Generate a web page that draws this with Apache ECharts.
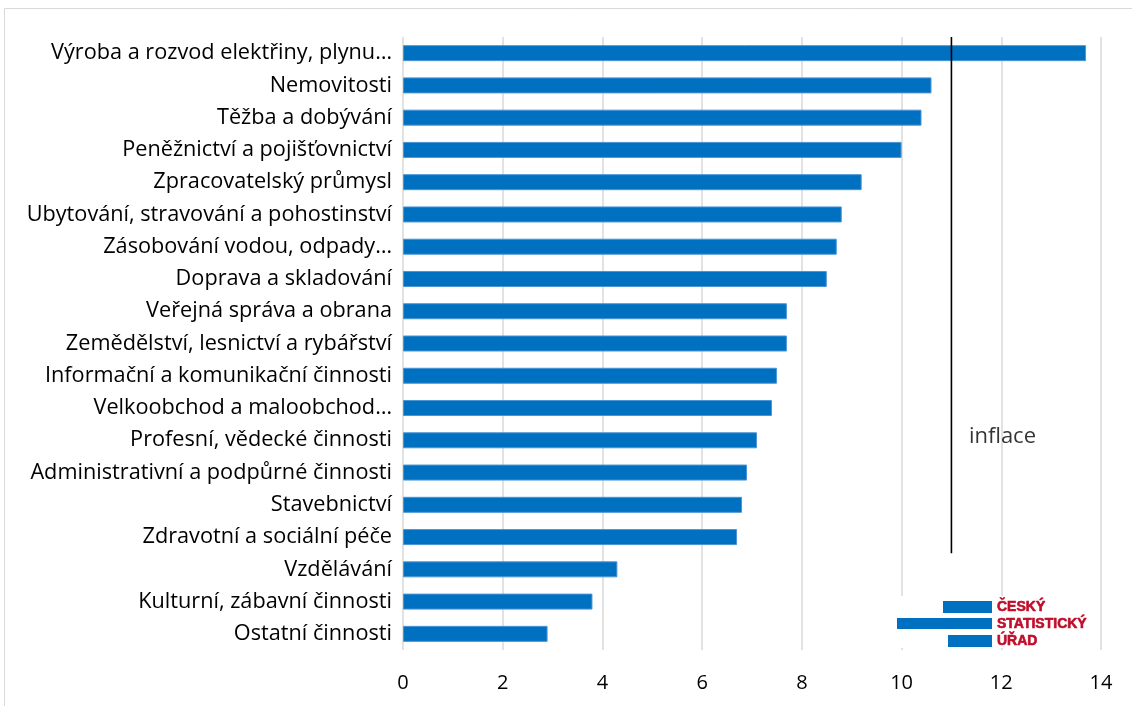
<!DOCTYPE html>
<html>
<head>
<meta charset="utf-8">
<script src="https://cdn.jsdelivr.net/npm/echarts@6/dist/echarts.min.js"></script>
<style>html,body{margin:0;padding:0;background:#fff;}#c{width:1132px;height:706px;}</style>
</head>
<body>
<div id="c"></div>
<script>
const categories = [
  'Výroba a rozvod elektřiny, plynu…',
  'Nemovitosti',
  'Těžba a dobývání',
  'Peněžnictví a pojišťovnictví',
  'Zpracovatelský průmysl',
  'Ubytování, stravování a pohostinství',
  'Zásobování vodou, odpady…',
  'Doprava a skladování',
  'Veřejná správa a obrana',
  'Zemědělství, lesnictví a rybářství',
  'Informační a komunikační činnosti',
  'Velkoobchod a maloobchod…',
  'Profesní, vědecké činnosti',
  'Administrativní a podpůrné činnosti',
  'Stavebnictví',
  'Zdravotní a sociální péče',
  'Vzdělávání',
  'Kulturní, zábavní činnosti',
  'Ostatní činnosti'
];
const values = [13.7, 10.6, 10.4, 10.0, 9.2, 8.8, 8.7, 8.5, 7.7, 7.7, 7.5, 7.4, 7.1, 6.9, 6.8, 6.7, 4.3, 3.8, 2.9];
const inflation = 11.0;
const inflationLine = [[inflation, 3], [inflation, 19]];
const inflationLabel = [[11.35, 6.6]];
const inflationText = 'inflace';
const xTicks = [0, 2, 4, 6, 8, 10, 12, 14];
const logoLines = ['ČESKÝ', 'STATISTICKÝ', 'ÚŘAD'];

const FONT = 'Open Sans';
const chart = echarts.init(document.getElementById('c'));
const logoText = (t, y) => ({ type: 'text', x: 997, y: y, z: 11,
  style: { text: t, fill: '#C00D2A', stroke: '#C00D2A', lineWidth: 0.6, font: 'bold 14px Liberation Sans, Arial, sans-serif', verticalAlign: 'middle' } });
chart.setOption({
  animation: false,
  backgroundColor: '#fff',
  grid: { left: 403, right: 31, top: 37, bottom: 56, containLabel: false },
  xAxis: {
    type: 'value', min: xTicks[0], max: xTicks[xTicks.length - 1], interval: 2,
    axisLine: { show: false }, axisTick: { show: false },
    splitLine: { show: true, lineStyle: { color: '#d9d9d9', width: 1.5 } },
    axisLabel: { color: '#000', fontFamily: FONT, fontSize: 20, margin: 23 }
  },
  yAxis: [{
    type: 'category', data: categories, inverse: true,
    axisLine: { show: false }, axisTick: { show: false },
    axisLabel: { color: '#000', fontFamily: FONT, fontSize: 21.7, margin: 11 }
  }, {
    type: 'value', min: 0, max: 19, show: false
  }],
  series: [{
    type: 'bar', data: values, barWidth: 16,
    itemStyle: { color: '#0070C0', borderColor: '#4a95d6', borderWidth: 1 }
  }, {
    type: 'line', yAxisIndex: 1, data: inflationLine, symbol: 'none',
    lineStyle: { color: '#000', width: 1.6 }, z: 5
  }, {
    type: 'scatter', yAxisIndex: 1, data: inflationLabel, symbolSize: 0,
    label: { show: true, position: 'right', distance: 0, formatter: inflationText, color: '#000', fontFamily: FONT, fontSize: 22 }
  }],
  graphic: [
    { type: 'rect', silent: true, shape: { x: 4.5, y: 8.5, width: 1200, height: 800 }, style: { fill: 'none', stroke: '#d9d9d9', lineWidth: 1 } },
    { type: 'rect', shape: { x: 893, y: 596, width: 200, height: 52 }, style: { fill: '#fff' }, z: 10 },
    { type: 'rect', shape: { x: 943, y: 601, width: 49, height: 12 }, style: { fill: '#0070C0' }, z: 11 },
    { type: 'rect', shape: { x: 897, y: 618, width: 95, height: 11 }, style: { fill: '#0070C0' }, z: 11 },
    { type: 'rect', shape: { x: 948, y: 635, width: 44, height: 12 }, style: { fill: '#0070C0' }, z: 11 },
    logoText(logoLines[0], 607),
    logoText(logoLines[1], 624),
    logoText(logoLines[2], 641)
  ]
});
</script>
</body>
</html>
